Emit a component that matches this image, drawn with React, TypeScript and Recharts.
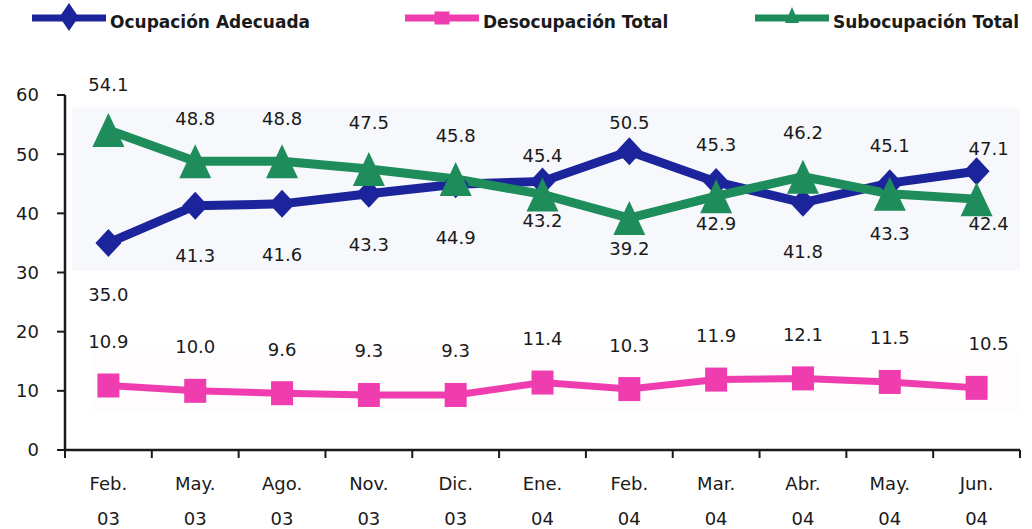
import { LabelList, Line, LineChart, ReferenceArea, XAxis, YAxis } from 'recharts';

const MONTHS = ['Feb.', 'May.', 'Ago.', 'Nov.', 'Dic.', 'Ene.', 'Feb.', 'Mar.', 'Abr.', 'May.', 'Jun.'];
const YEARS = ['03', '03', '03', '03', '03', '04', '04', '04', '04', '04', '04'];

const OCUPACION = [35.0, 41.3, 41.6, 43.3, 44.9, 45.4, 50.5, 45.3, 41.8, 45.1, 47.1];
const DESOCUPACION = [10.9, 10.0, 9.6, 9.3, 9.3, 11.4, 10.3, 11.9, 12.1, 11.5, 10.5];
const SUBOCUPACION = [54.1, 48.8, 48.8, 47.5, 45.8, 43.2, 39.2, 42.9, 46.2, 43.3, 42.4];

const Y_TICKS = [0, 10, 20, 30, 40, 50, 60];

// where each value label sits, px from its point (+ is below)
const OCUP_LABEL_DY = [52, 50, 51, 51, 53, -26, -29, -37, 49, -38, -23];
const SUBOC_LABEL_DY = [-45, -43, -43, -46, -44, 26, 30, 27, -44, 40, 24];
const DESOC_LABEL_DY = -44;

const BLUE = '#1c249c';
const PINK = '#ef3daf';
const GREEN = '#1f8c5c';
const INK = '#1a1a1a';
const FONT = '"DejaVu Sans", sans-serif';

const data = MONTHS.map((m, i) => ({
  i,
  ocup: OCUPACION[i],
  desoc: DESOCUPACION[i],
  suboc: SUBOCUPACION[i],
}));

// boundaries get a tick mark, centres get the month label
const xTicks: number[] = [];
for (let k = 0; k <= MONTHS.length; k++) {
  xTicks.push(k - 0.5);
  if (k < MONTHS.length) xTicks.push(k);
}

function XTick({ x, y, payload }: any) {
  const v = payload.value;
  if (!Number.isInteger(v)) {
    return <line x1={x} x2={x} y1={y} y2={y + 8} stroke={INK} strokeWidth={2} />;
  }
  return (
    <text x={x} y={y} textAnchor="middle" fontSize={18} fontFamily={FONT} fill={INK}>
      <tspan x={x} dy={40}>{MONTHS[v]}</tspan>
      <tspan x={x} dy={35}>{YEARS[v]}</tspan>
    </text>
  );
}

const Diamond = ({ cx, cy, w = 26, h = 28, color = BLUE }: any) => (
  <path
    d={`M${cx},${cy - h / 2} L${cx + w / 2},${cy} L${cx},${cy + h / 2} L${cx - w / 2},${cy} Z`}
    fill={color}
  />
);

const Triangle = ({ cx, cy, w = 32, h = 34, color = GREEN }: any) => (
  <path d={`M${cx},${cy - h / 2} L${cx + w / 2},${cy + h / 2} L${cx - w / 2},${cy + h / 2} Z`} fill={color} />
);

const Square = ({ cx, cy, w = 22, h = 24, color = PINK }: any) => (
  <rect x={cx - w / 2} y={cy - h / 2} width={w} height={h} fill={color} />
);

function valueLabel(offsets: number[] | number) {
  return (p: any) => {
    const { x, y, value, index } = p;
    const dy = Array.isArray(offsets) ? offsets[index] : offsets;
    const dx = index === MONTHS.length - 1 ? 12 : 0;
    return (
      <text
        x={x + dx}
        y={y + dy}
        textAnchor="middle"
        dominantBaseline="central"
        fontSize={18}
        fontFamily={FONT}
        fill={INK}
      >
        {Number(value).toFixed(1)}
      </text>
    );
  };
}

const LEGEND = [
  { name: 'Ocupación Adecuada', color: BLUE, icon: 'diamond', x: 32 },
  { name: 'Desocupación Total', color: PINK, icon: 'square', x: 405 },
  { name: 'Subocupación Total', color: GREEN, icon: 'triangle', x: 755 },
];

function ChartLegend() {
  return (
    <svg width={1032} height={40} style={{ position: 'absolute', left: 0, top: 0 }}>
      {LEGEND.map((it) => {
        const mid = it.x + 37;
        return (
          <g key={it.name}>
            <line x1={it.x} x2={it.x + 74} y1={18} y2={18} stroke={it.color} strokeWidth={7} />
            {it.icon === 'diamond' && <Diamond cx={mid} cy={17} w={19} h={28} color={it.color} />}
            {it.icon === 'square' && <Square cx={mid} cy={18} w={15} h={13} color={it.color} />}
            {it.icon === 'triangle' && <Triangle cx={mid} cy={15} w={14} h={16} color={it.color} />}
            <text
              x={it.x + 78}
              y={28}
              fontSize={17}
              fontWeight="bold"
              fontFamily={FONT}
              fill={INK}
            >
              {it.name}
            </text>
          </g>
        );
      })}
    </svg>
  );
}

export default function App() {
  return (
    <div style={{ position: 'absolute', left: 0, top: 0, width: 1032, height: 529, background: '#fff' }}>
      <ChartLegend />
      <LineChart width={1032} height={529} data={data} margin={{ top: 95, right: 12, left: 0, bottom: 0 }}>
        <ReferenceArea x1={-0.42} x2={10.5} y1={30.3} y2={57.9} fill="#f7f8fb" fillOpacity={1} stroke="none" />
        <ReferenceArea x1={-0.18} x2={10.5} y1={6.3} y2={16.9} fill="#fefcfd" fillOpacity={1} stroke="none" />
        <XAxis
          type="number"
          dataKey="i"
          domain={[-0.5, 10.5]}
          ticks={xTicks}
          interval={0}
          tickSize={0}
          tickMargin={0}
          tickLine={false}
          tick={<XTick />}
          axisLine={{ stroke: INK, strokeWidth: 2.5 }}
          height={79}
        />
        <YAxis
          domain={[0, 60]}
          ticks={Y_TICKS}
          interval={0}
          width={65}
          tickSize={8}
          tickMargin={18}
          axisLine={{ stroke: INK, strokeWidth: 2.5 }}
          tickLine={{ stroke: INK, strokeWidth: 2 }}
          tick={{ fontSize: 18, fontFamily: FONT, fill: INK }}
        />
        <Line
          type="linear"
          dataKey="ocup"
          stroke={BLUE}
          strokeWidth={9}
          dot={(p: any) => <Diamond key={p.index} cx={p.cx} cy={p.cy} />}
          isAnimationActive={false}
        >
          <LabelList dataKey="ocup" content={valueLabel(OCUP_LABEL_DY)} />
        </Line>
        <Line
          type="linear"
          dataKey="desoc"
          stroke={PINK}
          strokeWidth={7}
          dot={(p: any) => <Square key={p.index} cx={p.cx} cy={p.cy} />}
          isAnimationActive={false}
        >
          <LabelList dataKey="desoc" content={valueLabel(DESOC_LABEL_DY)} />
        </Line>
        <Line
          type="linear"
          dataKey="suboc"
          stroke={GREEN}
          strokeWidth={9}
          dot={(p: any) => <Triangle key={p.index} cx={p.cx} cy={p.cy} />}
          isAnimationActive={false}
        >
          <LabelList dataKey="suboc" content={valueLabel(SUBOC_LABEL_DY)} />
        </Line>
      </LineChart>
    </div>
  );
}
